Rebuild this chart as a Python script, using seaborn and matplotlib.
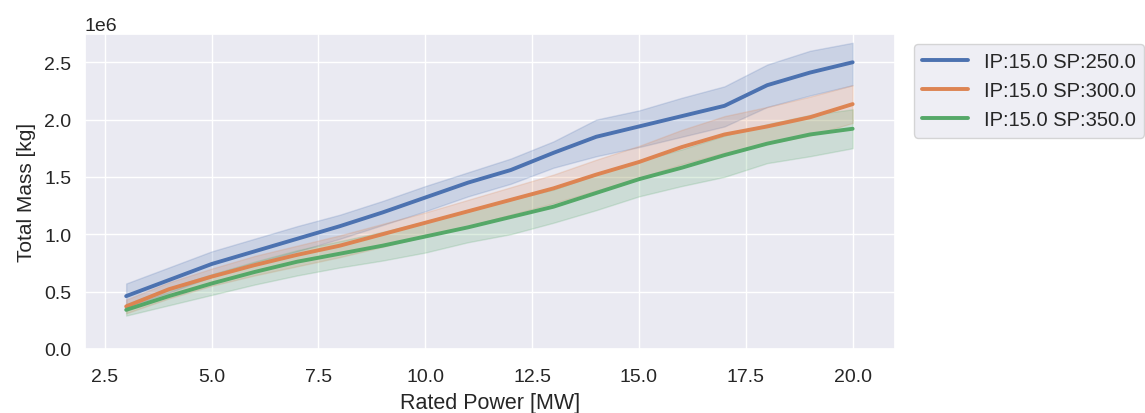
import numpy as np
import pandas as pd
import seaborn as sns
import matplotlib
matplotlib.use("Agg")
import matplotlib.pyplot as plt

rated_power = [3, 4, 5, 6, 7, 8, 9, 10, 11, 12, 13, 14, 15, 16, 17, 18, 19, 20]
series_labels = ["IP:15.0 SP:250.0", "IP:15.0 SP:300.0", "IP:15.0 SP:350.0"]

# values in units of 1e6 kg
sp250_mid = [0.46, 0.60, 0.74, 0.85, 0.96, 1.07, 1.19, 1.32, 1.45, 1.56, 1.71, 1.85, 1.94, 2.03, 2.12, 2.30, 2.41, 2.50]
sp250_low = [0.36, 0.49, 0.63, 0.74, 0.85, 0.96, 1.08, 1.20, 1.33, 1.44, 1.58, 1.68, 1.76, 1.85, 1.94, 2.11, 2.21, 2.30]
sp250_high = [0.57, 0.71, 0.85, 0.96, 1.07, 1.17, 1.29, 1.42, 1.54, 1.66, 1.81, 2.00, 2.08, 2.19, 2.29, 2.48, 2.60, 2.67]

sp300_mid = [0.37, 0.52, 0.63, 0.73, 0.82, 0.90, 1.00, 1.10, 1.20, 1.30, 1.40, 1.52, 1.63, 1.76, 1.87, 1.94, 2.02, 2.135]
sp300_low = [0.31, 0.44, 0.55, 0.64, 0.72, 0.80, 0.89, 0.98, 1.07, 1.17, 1.27, 1.38, 1.49, 1.61, 1.71, 1.79, 1.86, 1.97]
sp300_high = [0.43, 0.58, 0.70, 0.81, 0.90, 0.99, 1.09, 1.19, 1.30, 1.41, 1.52, 1.65, 1.77, 1.91, 2.03, 2.11, 2.20, 2.30]

sp350_mid = [0.34, 0.46, 0.57, 0.67, 0.76, 0.83, 0.90, 0.98, 1.06, 1.15, 1.24, 1.36, 1.48, 1.58, 1.69, 1.79, 1.87, 1.92]
sp350_low = [0.29, 0.38, 0.47, 0.56, 0.64, 0.71, 0.77, 0.84, 0.93, 1.00, 1.10, 1.21, 1.33, 1.42, 1.50, 1.62, 1.68, 1.75]
sp350_high = [0.39, 0.53, 0.65, 0.76, 0.86, 0.94, 1.02, 1.11, 1.20, 1.30, 1.39, 1.52, 1.64, 1.74, 1.86, 1.96, 2.04, 2.09]

groups = [
    (series_labels[0], sp250_low, sp250_mid, sp250_high),
    (series_labels[1], sp300_low, sp300_mid, sp300_high),
    (series_labels[2], sp350_low, sp350_mid, sp350_high),
]
rows = []
for label, lo, mid, hi in groups:
    for x, a, b, c in zip(rated_power, lo, mid, hi):
        for v in (a, b, c):
            rows.append({"Rated Power [MW]": x, "Total Mass [kg]": v * 1e6, "series": label})
df = pd.DataFrame(rows)

sns.set_theme(style="darkgrid")
plt.rcParams["font.family"] = ["Liberation Sans", "DejaVu Sans"]

fig = plt.figure(figsize=(11.45, 4.14), dpi=100)
ax = fig.add_axes([0.074, 0.155, 0.708, 0.76])

sns.lineplot(data=df, x="Rated Power [MW]", y="Total Mass [kg]", hue="series",
             estimator="median", errorbar=("pi", 100), linewidth=2.8, ax=ax,
             err_kws={"alpha": 0.2})

ax.set_xlim(2.03, 21.0)
ax.set_ylim(0, 2.745e6)
ax.set_xlabel("Rated Power [MW]", fontsize=15.5, labelpad=5)
ax.set_ylabel("Total Mass [kg]", fontsize=15, labelpad=6)
ax.tick_params(labelsize=14)
ax.tick_params(axis="x", pad=8)
ax.yaxis.get_offset_text().set_fontsize(14)

leg = ax.legend(loc="upper left", bbox_to_anchor=(1.01, 1.0), fontsize=14.5,
                handlelength=2.3, title=None)
for h in leg.get_lines():
    h.set_linewidth(2.8)

fig.savefig("out.png", dpi=100)
